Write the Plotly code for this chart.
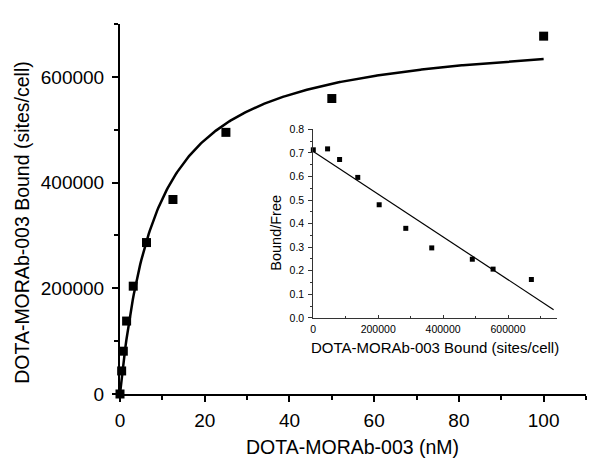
import numpy as np
import plotly.graph_objects as go

# Saturation binding data (main plot)
conc_nM = [0, 0.39, 0.78, 1.56, 3.125, 6.25, 12.5, 25, 50, 100]
bound_sites = [0, 43600, 81000, 138000, 204000, 286500, 368000, 495000, 559000, 677000]

# One-site fit parameters
fit_bmax = 688300
fit_kd = 8.63

# Scatchard (inset) data
scat_bound = [0, 44000, 81000, 137000, 203000, 285000, 365000, 490000, 554000, 672000]
scat_bf = [0.713, 0.717, 0.672, 0.596, 0.48, 0.38, 0.297, 0.249, 0.207, 0.163]

# Scatchard linear fit
scat_intercept = 0.706
scat_slope = -9.06e-7
scat_line_x = [0, 740600]

FONT = "Liberation Sans, Arial, sans-serif"

fit_x = np.linspace(0, 100, 400)
fit_y = fit_bmax * fit_x / (fit_kd + fit_x)
scat_line_y = [scat_intercept + scat_slope * v for v in scat_line_x]

fig = go.Figure()
fig.add_trace(go.Scatter(x=fit_x, y=fit_y, mode="lines",
                         line=dict(color="black", width=2.5), showlegend=False,
                         xaxis="x", yaxis="y"))
fig.add_trace(go.Scatter(x=conc_nM, y=bound_sites, mode="markers",
                         marker=dict(symbol="square", size=9, color="black"),
                         showlegend=False, xaxis="x", yaxis="y", cliponaxis=False))
fig.add_trace(go.Scatter(x=scat_line_x, y=scat_line_y, mode="lines",
                         line=dict(color="black", width=1.2), showlegend=False,
                         xaxis="x2", yaxis="y2"))
fig.add_trace(go.Scatter(x=scat_bound, y=scat_bf, mode="markers",
                         marker=dict(symbol="square", size=5, color="black"),
                         showlegend=False, xaxis="x2", yaxis="y2", cliponaxis=False))

axis_common = dict(showgrid=False, zeroline=False, showline=True, linecolor="black",
                   tickcolor="black", ticks="outside")

# page body adds an 8px offset; figure sized so plot area lands at x 120-586, y 18-394
fig.update_layout(
    width=592, height=459,
    margin=dict(l=112, r=14, t=10, b=73),
    paper_bgcolor="white", plot_bgcolor="rgba(0,0,0,0)",
    font=dict(family=FONT, color="black"),
    xaxis=dict(**axis_common, range=[0, 110], dtick=20, tick0=0, linewidth=2,
               ticklen=6, tickwidth=1.5, tickfont=dict(size=19),
               minor=dict(dtick=10, ticklen=4, tickcolor="black", ticks="outside", tickwidth=1.5),
               ticklabelstandoff=2),
    yaxis=dict(**axis_common, range=[0, 700000], dtick=200000, tick0=0, linewidth=2,
               ticklen=6, tickwidth=1.5, tickformat="d", tickfont=dict(size=19),
               minor=dict(dtick=100000, ticklen=4, tickcolor="black", ticks="outside", tickwidth=1.5),
               ticklabelstandoff=4),
    xaxis2=dict(showgrid=False, zeroline=False, showline=True, linecolor="#333",
                linewidth=1, ticks="inside", ticklen=3, tickcolor="#333",
                range=[0, 750000], dtick=200000, tick0=0, tickformat="d",
                tickfont=dict(size=10.5), anchor="y2",
                domain=[0.4148, 0.9371],
                minor=dict(dtick=100000, ticklen=2, tickcolor="#333", ticks="inside"),
                ticklabelstandoff=1),
    yaxis2=dict(showgrid=False, zeroline=False, showline=True, linecolor="#333",
                linewidth=1, ticks="outside", ticklen=4, tickcolor="#333",
                range=[0, 0.8], dtick=0.1, tick0=0, tickformat=".1f",
                tickfont=dict(size=10.5), anchor="x2",
                domain=[0.2056, 0.7154],
                minor=dict(dtick=0.05, ticklen=2, tickcolor="#333", ticks="outside"),
                ticklabelstandoff=2),
    annotations=[
        dict(text="DOTA-MORAb-003 (nM)", xref="paper", yref="paper",
             x=0.4989, y=-0.1436, showarrow=False, xanchor="center", yanchor="middle",
             font=dict(size=19.5, family=FONT)),
        dict(text="DOTA-MORAb-003 Bound (sites/cell)", xref="paper", yref="paper",
             x=-0.2092, y=0.464, showarrow=False, xanchor="center", yanchor="middle",
             textangle=-90, font=dict(size=19.5, family=FONT)),
        dict(text="DOTA-MORAb-003 Bound (sites/cell)", xref="paper", yref="paper",
             x=0.676, y=0.125, showarrow=False, xanchor="center", yanchor="middle",
             font=dict(size=15, family=FONT)),
        dict(text="Bound/Free", xref="paper", yref="paper",
             x=0.3348, y=0.436, showarrow=False, xanchor="center", yanchor="middle",
             textangle=-90, font=dict(size=14.5, family=FONT)),
    ],
)

fig.write_html("out.html")
